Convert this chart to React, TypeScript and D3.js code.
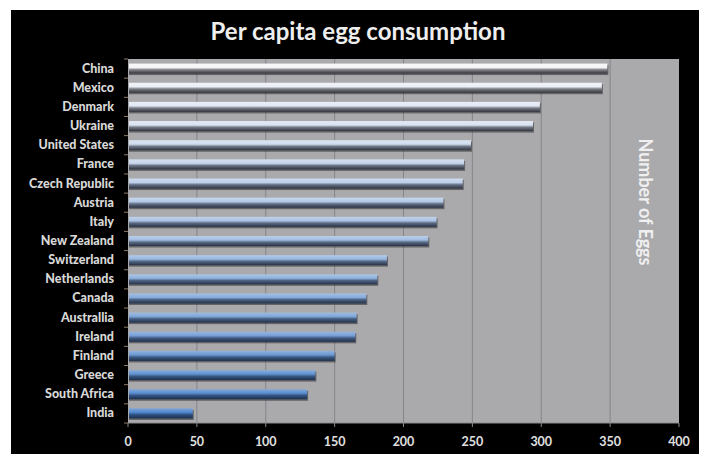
import React from "react";
import * as d3 from "d3";

const countries = [
  "China", "Mexico", "Denmark", "Ukraine", "United States", "France",
  "Czech Republic", "Austria", "Italy", "New Zealand", "Switzerland",
  "Netherlands", "Canada", "Australlia", "Ireland", "Finland", "Greece",
  "South Africa", "India",
];
const eggs = [348, 344, 299, 294, 249, 244, 243, 229, 224, 218, 188, 181, 173, 166, 165, 150, 136, 130, 47];
const xTicks = [0, 50, 100, 150, 200, 250, 300, 350, 400];

const W = 703, H = 454;
const plot = { left: 128, right: 679, top: 59, bottom: 423 };

export default function App() {
  const x = d3.scaleLinear().domain([0, 400]).range([plot.left, plot.right]);
  const y = d3.scaleBand().domain(countries).range([plot.top, plot.bottom]).paddingInner(0).paddingOuter(0);
  const bw = y.bandwidth();
  const light = d3.interpolateRgb("#f4f4f8", "#4f86cc");
  const dark = d3.interpolateRgb("#35353b", "#1a2f50");
  const n = countries.length;
  const barH = 10;
  const font = "Lato, 'Open Sans', 'DejaVu Sans', sans-serif";

  return (
    <svg width={W} height={H} style={{ position: "absolute", left: 0, top: 0 }}>
      <defs>
        {countries.map((c, i) => {
          const t = i / (n - 1);
          return (
            <linearGradient key={c} id={`g${i}`} x1="0" y1="0" x2="0" y2="1">
              <stop offset="0" stopColor={d3.interpolateRgb(light(t), "#ffffff")(0.25)} />
              <stop offset="0.4" stopColor={light(t)} />
              <stop offset="0.62" stopColor={d3.interpolateRgb(light(t), dark(t))(0.6)} />
              <stop offset="1" stopColor={dark(t)} />
            </linearGradient>
          );
        })}
      </defs>
      <rect x={0} y={0} width={W} height={H} fill="#ffffff" />
      <rect x={11} y={10} width={688} height={H - 10} fill="#000000" />
      <text x={358} y={40} textAnchor="middle" fill="#eeeeee" fontFamily={font} fontWeight="bold" fontSize={24}>
        Per capita egg consumption
      </text>
      <rect x={plot.left} y={plot.top} width={plot.right - plot.left} height={plot.bottom - plot.top} fill="#aaaaad" />
      {xTicks.slice(1, -1).map((t) => (
        <line key={t} x1={x(t)} x2={x(t)} y1={plot.top} y2={plot.bottom} stroke="#85858a" strokeWidth={1} />
      ))}
      {countries.map((c, i) => {
        const yc = (y(c) as number) + bw / 2;
        return (
          <g key={c}>
            <rect x={plot.left + 1} y={yc - barH / 2 + 1.5} width={x(eggs[i]) - plot.left} height={barH} fill="#2a2a2e" opacity={0.55} />
            <rect x={plot.left + 1} y={yc - barH / 2} width={x(eggs[i]) - plot.left - 1} height={barH} fill={`url(#g${i})`} />
            <text x={114} y={yc + 4} textAnchor="end" fill="#d8d8d8" fontFamily={font} fontWeight="900" fontSize={12.5}>
              {c}
            </text>
          </g>
        );
      })}
      {d3.range(n + 1).map((i) => {
        const yy = plot.top + i * bw;
        return <line key={i} x1={124} x2={plot.left} y1={yy} y2={yy} stroke="#8a7a6a" strokeWidth={1} />;
      })}
      <line x1={plot.left} x2={plot.right} y1={plot.bottom} y2={plot.bottom} stroke="#8a8a8a" />
      {xTicks.map((t) => (
        <g key={t}>
          <line x1={x(t)} x2={x(t)} y1={plot.bottom} y2={plot.bottom + 4} stroke="#8a8a8a" />
          <text x={x(t)} y={446} textAnchor="middle" fill="#e0e0e0" fontFamily={font} fontWeight="bold" fontSize={12.5}>
            {t}
          </text>
        </g>
      ))}
      <text
        transform={`translate(639, 202) rotate(90)`}
        textAnchor="middle"
        fill="#f0f0f0"
        fontFamily={font}
        fontWeight="bold"
        fontSize={18}
      >
        Number of Eggs
      </text>
    </svg>
  );
}
